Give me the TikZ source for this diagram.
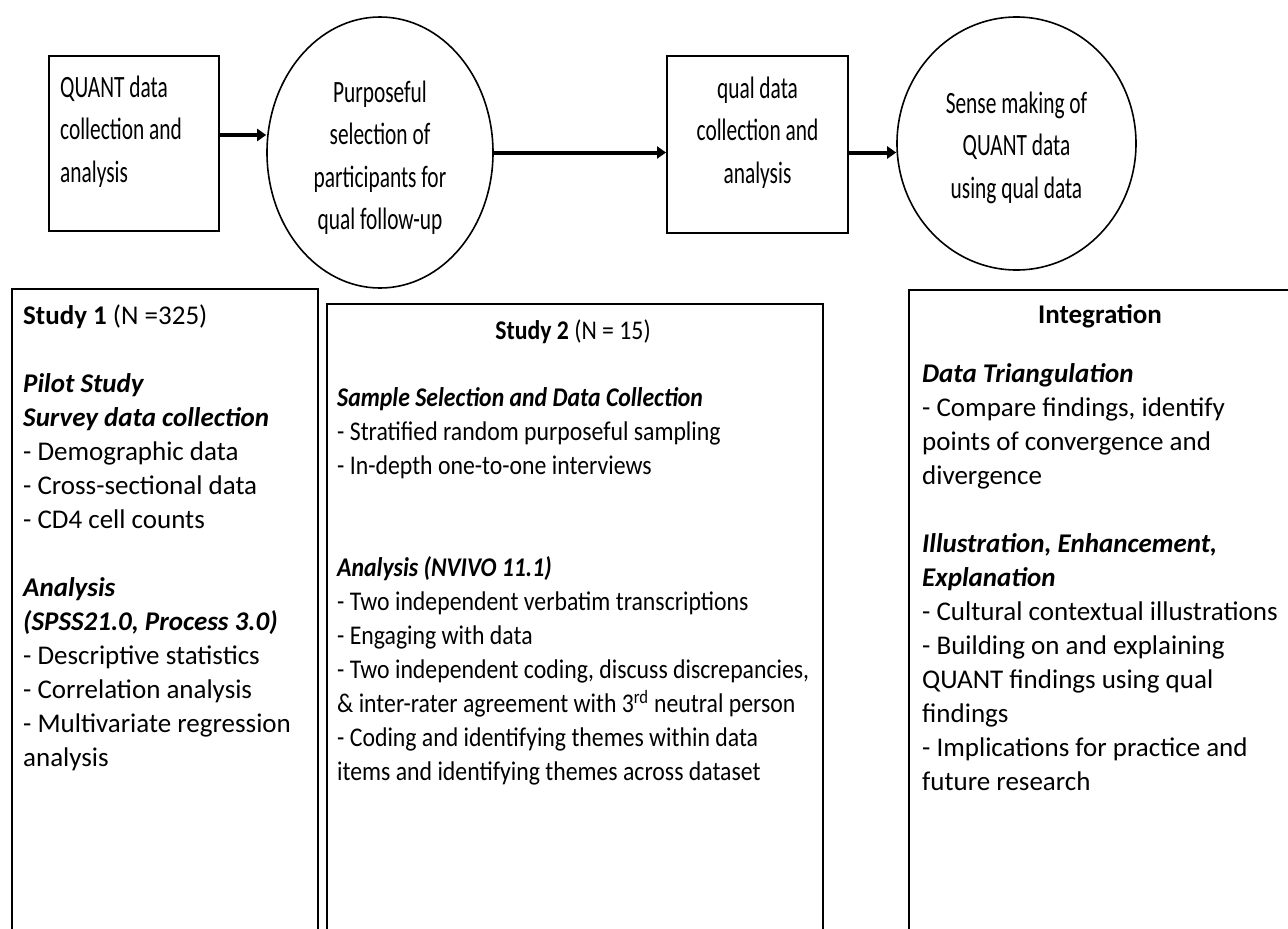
\documentclass[tikz,border=0pt]{standalone}
\usepackage{fontspec}
\setmainfont{Carlito}
\newfontfamily\narrowfont[FakeStretch=0.69]{Carlito}
\newfontfamily\midfont[FakeStretch=0.88]{Carlito}
\usetikzlibrary{shapes.geometric,arrows.meta}

\begin{document}
\begin{tikzpicture}[x=1pt,y=-1pt,
  topbox/.style={draw, line width=2pt, inner sep=0pt},
  oval/.style={ellipse, draw, line width=1.6pt, inner sep=0pt},
  panel/.style={draw, line width=1.6pt, inner sep=0pt, anchor=north west},
  flow/.style={line width=4pt, -{Triangle[length=9pt,width=12pt]}},
  toptext/.style={inner sep=0pt, font=\narrowfont\fontsize{31}{42.5}\selectfont},
  body/.style={inner sep=0pt, anchor=north west, align=left, font=\fontsize{27}{34}\selectfont},
  heading/.style={inner sep=0pt, anchor=north, align=center, font=\fontsize{27}{34}\selectfont},
  condensed/.style={font=\midfont\fontsize{27}{34}\selectfont},
]
\useasboundingbox (0,0) rectangle (1288,929);
\fill[white] (0,0) rectangle (1288,929);
\clip (0,0) rectangle (1288,929);

% ---- process chain ----
\node[topbox, minimum width=170pt, minimum height=175pt] (b1) at (134,143.5) {};
\node[oval, minimum width=226pt, minimum height=271pt] (c1) at (380,152.5) {};
\node[topbox, minimum width=181pt, minimum height=177pt] (b2) at (757.5,144.5) {};
\node[oval, minimum width=239pt, minimum height=253pt] (c2) at (1016.5,143.5) {};

\node[toptext, anchor=north west, align=left] (t1) at (60,67.25)
  {\strut QUANT data\\collection and\\analysis};
\node[toptext, anchor=north, align=center] (t2) at (380,72.25)
  {\strut Purposeful\\selection of\\participants for\\qual follow-up};
\node[toptext, anchor=north, align=center] (t3) at (757.5,68.25)
  {\strut qual data\\collection and\\analysis};
\node[toptext, anchor=north, align=center] (t4) at (1016.5,83.25)
  {\strut Sense making of\\QUANT data\\using qual data};

\coordinate (a1) at ([yshift=8.5pt]b1.east);
\draw[flow] (a1) -- (a1 -| c1.west);
\draw[flow] (c1.east) -- (c1.east -| b2.west);
\draw[flow] (b2.east |- c1.east) -- (c1.east -| c2.west);

% ---- study panels ----
\node[panel, minimum width=306pt, minimum height=660pt] (p1) at (11,288) {};
\node[panel, minimum width=496pt, minimum height=660pt] (p2) at (326,303) {};
\node[panel, minimum width=400pt, minimum height=660pt] (p3) at (908,289) {};

\node[body] (s1) at (23,300.2) {\strut\textbf{Study 1} (N =325)\\[34pt]
\textbf{\textit{Pilot Study}}\\
\textbf{\textit{Survey data collection}}\\
- Demographic data\\
- Cross-sectional data\\
- CD4 cell counts\\[34pt]
\textbf{\textit{Analysis}}\\
\textbf{\textit{(SPSS21.0, Process 3.0)}}\\
- Descriptive statistics\\
- Correlation analysis\\
- Multivariate regression\\
analysis};

\node[heading, condensed] (h2) at (573,315.2) {\strut\textbf{Study 2} (N = 15)};
\node[body, condensed] (s2) at (337,382.2) {\strut\textbf{\textit{Sample Selection and Data Collection}}\\
- Stratified random purposeful sampling\\
- In-depth one-to-one interviews\\[68pt]
\textbf{\textit{Analysis (NVIVO 11.1)}}\\
- Two independent verbatim transcriptions\\
- Engaging with data\\
- Two independent coding, discuss discrepancies,\\
\& inter-rater agreement with 3\textsuperscript{rd} neutral person\\
- Coding and identifying themes within data\\
items and identifying themes across dataset};

\node[heading] (h3) at (1100,299.2) {\strut\textbf{Integration}};
\node[body] (s3) at (922,358.2) {\strut\textbf{\textit{Data Triangulation}}\\
- Compare findings, identify\\
points of convergence and\\
divergence\\[34pt]
\textbf{\textit{Illustration, Enhancement,}}\\
\textbf{\textit{Explanation}}\\
- Cultural contextual illustrations\\
- Building on and explaining\\
QUANT findings using qual\\
findings\\
- Implications for practice and\\
future research};
\end{tikzpicture}
\end{document}
